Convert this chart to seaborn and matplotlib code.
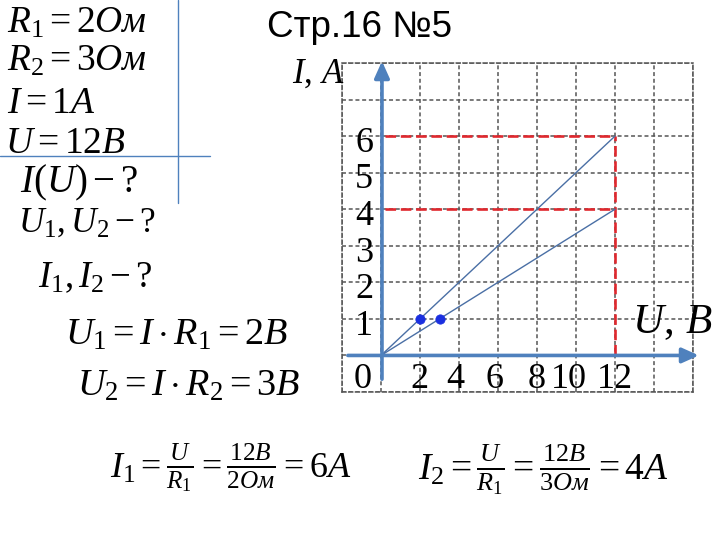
import numpy as np
import pandas as pd
import matplotlib
matplotlib.use("Agg")
import matplotlib.pyplot as plt
import seaborn as sns

# ---- data ----
U_line = [0, 12]
I_line1 = [0, 6]
I_line2 = [0, 4]
U_points = [2, 3]
I_points = [1, 1]
x_tick_vals = [0, 2, 4, 6, 8, 10, 12]
x_tick_labels = ["0", "2", "4", "6", "8", "10", "12"]
y_tick_vals = [1, 2, 3, 4, 5, 6]
y_tick_labels = ["1", "2", "3", "4", "5", "6"]
I_results = [6, 4]
U_source = 12

sns.set_style("white")
plt.rcParams["font.family"] = ["Liberation Serif", "DejaVu Serif"]
plt.rcParams["mathtext.fontset"] = "custom"
plt.rcParams["mathtext.rm"] = "Liberation Serif"
plt.rcParams["mathtext.it"] = "Liberation Serif:italic"
plt.rcParams["mathtext.bf"] = "Liberation Serif:bold"
plt.rcParams["text.color"] = "black"

W, H = 720, 540
fig = plt.figure(figsize=(7.2, 5.4), dpi=100)
fig.patch.set_facecolor("white")

def fx(px):
    return px / W

def fy(py):
    return 1 - py / H

ax = fig.add_axes([fx(342), fy(392), (693 - 342) / W, (392 - 63) / H])
ax.set_xlim(-2, 16)
ax.set_ylim(-1, 8)
ax.set_xticks(np.arange(-2, 17, 2))
ax.set_yticks(np.arange(-1, 9, 1))
grid_col = "#555555"
ax.grid(True, color=grid_col, lw=1.1, ls=(0, (2.6, 1.8)))
ax.tick_params(length=0, labelbottom=False, labelleft=False)
for sp in ax.spines.values():
    sp.set_visible(True)
    sp.set_color(grid_col)
    sp.set_linewidth(1.1)
    sp.set_linestyle((0, (2.6, 1.8)))
ax.set_facecolor("white")

# red dashed guide lines
red = "#e0282e"
red_ls = (0, (4, 1.8))
for v in I_results:
    ax.plot([0.2, U_source], [v, v], color=red, lw=1.9, ls=red_ls, zorder=3)
ax.plot([U_source, U_source], [0, max(I_results)], color=red, lw=1.9, ls=red_ls, zorder=3)

# lines via seaborn
df = pd.DataFrame({
    "U": U_line + U_line,
    "I": I_line1 + I_line2,
    "s": ["R1"] * len(U_line) + ["R2"] * len(U_line),
})
sns.lineplot(data=df, x="U", y="I", units="s", estimator=None, color="#4a6fa5",
             lw=1.0, ax=ax, zorder=4, legend=False)
sns.scatterplot(x=U_points, y=I_points, color="#1a2fe0", s=45, edgecolor="#1a2fe0",
                ax=ax, zorder=6, legend=False)
ax.set_xlabel("")
ax.set_ylabel("")

# axis arrows
axis_col = "#4f81bd"
ax.annotate("", xy=(16.3, 0), xytext=(-1.7, 0),
            arrowprops=dict(arrowstyle="-|>,head_length=1.0,head_width=0.45",
                            color=axis_col, lw=2.6, shrinkA=0, shrinkB=0),
            annotation_clip=False, zorder=5)
ax.annotate("", xy=(0.05, 8.05), xytext=(0.05, -0.65),
            arrowprops=dict(arrowstyle="-|>,head_length=1.0,head_width=0.45",
                            color=axis_col, lw=2.6, shrinkA=0, shrinkB=0),
            annotation_clip=False, zorder=5)

# tick labels
x_label_pos = {0: -0.95, 2: 1.95, 4: 3.8, 6: 5.8, 8: 8.0, 10: 9.65, 12: 12.0}
for v, lab in zip(x_tick_vals, x_tick_labels):
    ax.text(x_label_pos[v], -0.65, lab, ha="center", va="center", fontsize=26,
            family="Liberation Serif", color="black", zorder=7)
for v, lab in zip(y_tick_vals, y_tick_labels):
    ax.text(-0.4, v - 0.2, lab, ha="right", va="center", fontsize=26,
            family="Liberation Serif", color="black", zorder=7)

# axis titles
fig.text(fx(292), fy(83), r"$I,\,A$", fontsize=25, ha="left", va="baseline")
fig.text(fx(632), fy(333), r"$U,\,В$", fontsize=31, ha="left", va="baseline")

# title
fig.text(fx(267), fy(37), "Стр.16 №5", fontsize=26.5, ha="left", va="baseline",
         family=["Liberation Sans", "DejaVu Sans"])

# given block
given = [
    (r"$R_1=2Ом$", 7, 33),
    (r"$R_2=3Ом$", 7, 71),
    (r"$I=1A$", 7, 113),
    (r"$U=12В$", 5, 153),
]
for s, x, y in given:
    fig.text(fx(x), fy(y), s, fontsize=27, ha="left", va="baseline")

questions = [
    (r"$I(U)-?$", 20, 192, 28),
    (r"$U_1,U_2-?$", 18, 232, 25.5),
    (r"$I_1,I_2-?$", 38, 287, 26.5),
]
for s, x, y, fsz in questions:
    fig.text(fx(x), fy(y), s, fontsize=fsz, ha="left", va="baseline")

eqs = [
    (r"$U_1=I\cdot R_1=2В$", 65, 345),
    (r"$U_2=I\cdot R_2=3В$", 77, 396),
]
for s, x, y in eqs:
    fig.text(fx(x), fy(y), s, fontsize=27.5, ha="left", va="baseline")

fig.text(fx(110), fy(468), r"$I_1=\frac{U}{R_1}=\frac{12В}{2Ом}=6A$", fontsize=26,
         ha="left", va="center")
fig.text(fx(418), fy(470), r"$I_2=\frac{U}{R_1}=\frac{12В}{3Ом}=4A$", fontsize=27,
         ha="left", va="center")

# separator lines of the "given" block
sep_col = "#4f81bd"
fig.add_artist(plt.Line2D([fx(178), fx(178)], [fy(0), fy(203)], color=sep_col, lw=1.0,
                          transform=fig.transFigure))
fig.add_artist(plt.Line2D([fx(0), fx(210)], [fy(156), fy(156)], color=sep_col, lw=1.0,
                          transform=fig.transFigure))

fig.savefig("out.png", dpi=100, facecolor="white")
